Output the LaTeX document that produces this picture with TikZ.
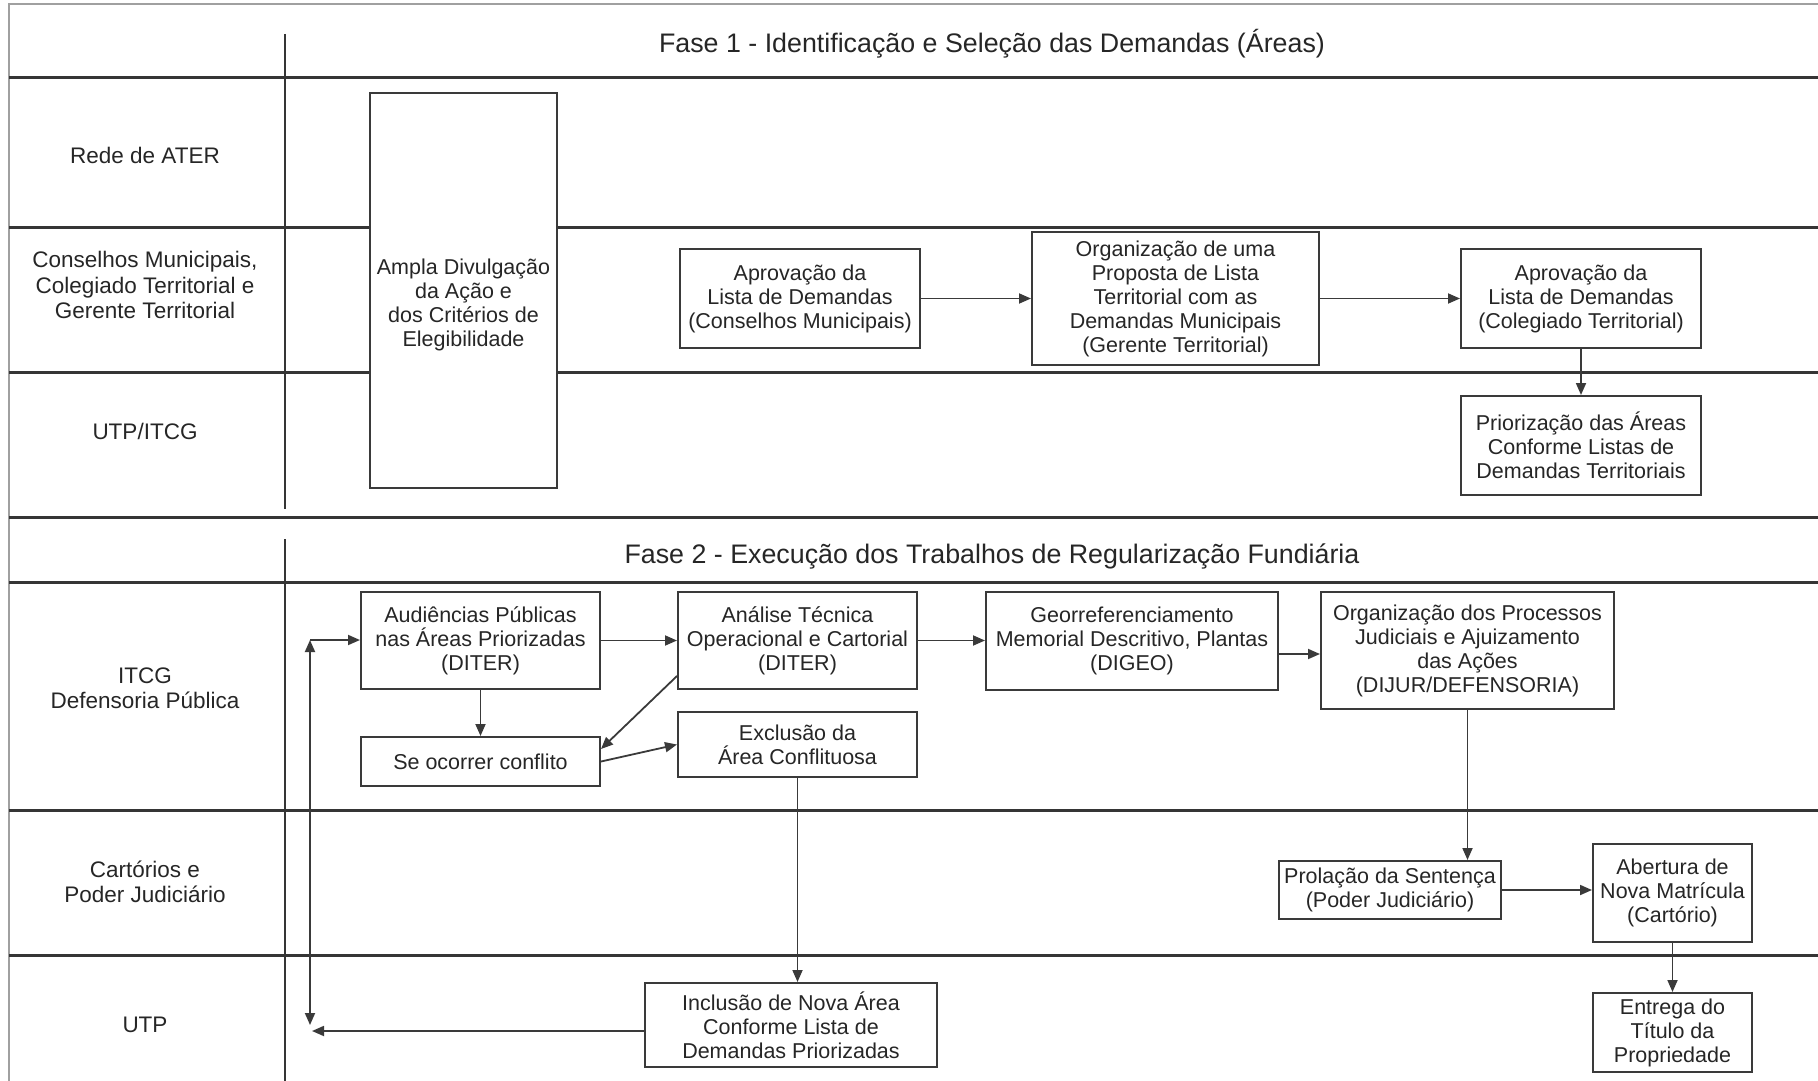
\documentclass[tikz,border=0pt]{standalone}
\usepackage{fontspec}
\setmainfont{Liberation Sans}
\usetikzlibrary{arrows.meta,positioning}
\definecolor{txtgray}{HTML}{262626}
\definecolor{boxgray}{HTML}{3A3A3A}
\definecolor{sepgray}{HTML}{353535}
\definecolor{framegray}{HTML}{A0A0A0}

\begin{document}
\begin{tikzpicture}[
    x=1pt, y=-1pt,
    every node/.style={font=\fontsize{21.5}{24}\selectfont, text=txtgray},
    proc/.style={draw=boxgray, fill=white, line width=2pt, align=center, inner sep=0pt},
    lane/.style={align=center, font=\fontsize{22.5}{25.5}\selectfont},
    phase/.style={font=\fontsize{26.8}{30}\selectfont},
    sep/.style={draw=sepgray, line width=3pt},
    vsep/.style={draw=sepgray, line width=2pt},
    flow/.style={draw=boxgray, line width=1.8pt, -{Triangle[length=12pt,width=10pt]}},
    flowboth/.style={draw=boxgray, line width=1.8pt,
      {Triangle[length=12pt,width=10pt]}-{Triangle[length=12pt,width=10pt]}}
  ]
  \useasboundingbox (0,0) rectangle (1818,1081);

  % frame and lanes
  \draw[framegray, line width=1.5pt] (9,1081) -- (9,4) -- (1818,4);
  \foreach \y in {78,227,372,517,582,810,955}
    \draw[sep] (9,\y) -- (1818,\y);
  \draw[vsep] (285,34) -- (285,509);
  \draw[vsep] (285,539) -- (285,1081);

  % headers
  \node[phase] (fase1) at (992,44) {Fase 1 - Identificação e Seleção das Demandas (Áreas)};
  \node[phase] (fase2) at (992,556) {Fase 2 - Execução dos Trabalhos de Regularização Fundiária};

  % lane names
  \node[lane] (lrede) at (145,155) {Rede de ATER};
  \node[lane] (lcons) at (145,285) {Conselhos Municipais,\\Colegiado Territorial e\\Gerente Territorial};
  \node[lane] (lutpitcg) at (145,431) {UTP/ITCG};
  \node[lane] (litcg) at (145,688) {ITCG\\Defensoria Pública};
  \node[lane] (lcart) at (145,882) {Cartórios e\\Poder Judiciário};
  \node[lane] (lutp) at (145,1025) {UTP};

  % fase 1
  \node[proc, minimum width=187pt, minimum height=395pt,
    label={[align=center, yshift=-14pt]center:Ampla Divulgação\\da Ação e\\dos Critérios de\\Elegibilidade}]
    (amp) at (463.5,290.5) {};
  \node[proc, minimum width=240pt, minimum height=99pt] (aprovcm) at (800,298.5)
    {Aprovação da\\Lista de Demandas\\(Conselhos Municipais)};
  \node[proc, minimum width=287pt, minimum height=133pt] (orgprop) at (1175.5,298.5)
    {Organização de uma\\Proposta de Lista\\Territorial com as\\Demandas Municipais\\(Gerente Territorial)};
  \node[proc, minimum width=240pt, minimum height=99pt] (aprovct) at (1581,298.5)
    {Aprovação da\\Lista de Demandas\\(Colegiado Territorial)};
  \node[proc, minimum width=240pt, minimum height=99pt] (prior) at (1581,445.5)
    {Priorização das Áreas\\Conforme Listas de\\Demandas Territoriais};

  \draw[flow] (aprovcm) -- (orgprop);
  \draw[flow] (orgprop) -- (aprovct);
  \draw[flow] (aprovct) -- (prior);

  % fase 2
  \node[proc, minimum width=239pt, minimum height=97pt] (aud) at (480.5,640.5)
    {Audiências Públicas\\nas Áreas Priorizadas\\(DITER)};
  \node[proc, minimum width=239pt, minimum height=97pt] (anal) at (797.5,640.5)
    {Análise Técnica\\Operacional e Cartorial\\(DITER)};
  \node[proc, minimum width=292pt, minimum height=98pt] (geo) at (1132,641)
    {Georreferenciamento\\Memorial Descritivo, Plantas\\(DIGEO)};
  \node[proc, minimum width=293pt, minimum height=117pt] (orgproc) at (1467.5,650.5)
    {Organização dos Processos\\Judiciais e Ajuizamento\\das Ações\\(DIJUR/DEFENSORIA)};
  \node[proc, minimum width=239pt, minimum height=49pt] (conf) at (480.5,761.5)
    {Se ocorrer conflito};
  \node[proc, minimum width=239pt, minimum height=65pt] (excl) at (797.5,744.5)
    {Exclusão da\\Área Conflituosa};
  \node[proc, minimum width=222pt, minimum height=58pt] (prol) at (1390,890)
    {Prolação da Sentença\\(Poder Judiciário)};
  \node[proc, minimum width=159pt, minimum height=98pt] (abert) at (1672.5,893)
    {Abertura de\\Nova Matrícula\\(Cartório)};
  \node[proc, minimum width=159pt, minimum height=79pt] (entr) at (1672.5,1032.5)
    {Entrega do\\Título da\\Propriedade};
  \node[proc, minimum width=292pt, minimum height=84pt] (incl) at (791,1025)
    {Inclusão de Nova Área\\Conforme Lista de\\Demandas Priorizadas};

  \coordinate (g1) at ([yshift=-13pt]geo.east);
  \coordinate (rt) at (310,640);
  \coordinate (rb) at (310,1025);
  \coordinate (ret) at (312,1031);

  \draw[flow] (aud) -- (anal);
  \draw[flow] (anal.east) -- (anal.east -| geo.west);
  \draw[flow] (g1) -- (g1 -| orgproc.west);
  \draw[flow] (aud) -- (conf);
  \draw[flow] ([yshift=14pt]anal.south west) -- ([yshift=-13pt]conf.north east);
  \draw[flow] (conf.east) -- (excl.west);
  \draw[flow] (excl.south) -- (excl.south |- incl.north);
  \draw[flow] (orgproc.south) -- (orgproc.south |- prol.north);
  \draw[flow] (prol.east) -- (prol.east -| abert.west);
  \draw[flow] (abert) -- (entr);
  \draw[flow] (incl.west |- ret) -- (ret);
  \draw[flowboth] (rb) -- (rt);
  \draw[flow] (rt) -- (rt -| aud.west);
\end{tikzpicture}
\end{document}
